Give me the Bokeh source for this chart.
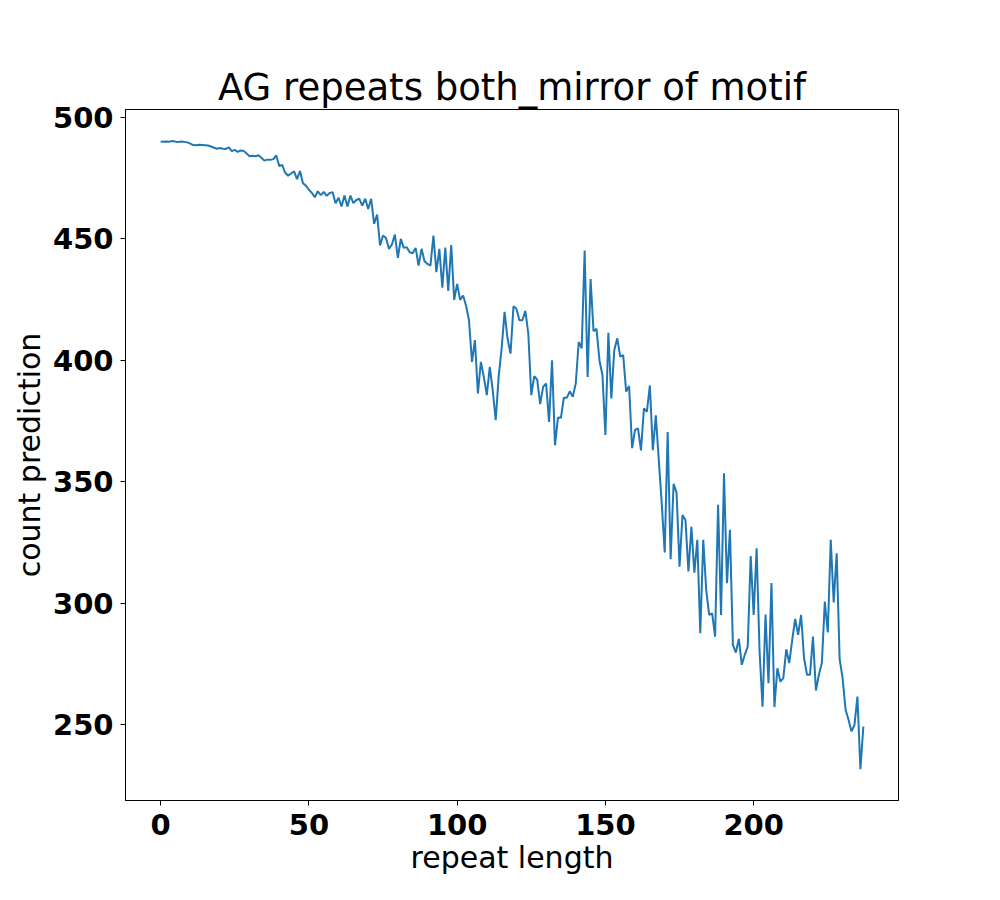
from bokeh.plotting import figure
from bokeh.models import Range1d, FixedTicker, ColumnDataSource
from bokeh.embed import file_html
from bokeh.resources import INLINE

title_text = "AG repeats both_mirror of motif"
x_label = "repeat length"
y_label = "count prediction"
x_ticks = [0, 50, 100, 150, 200]
y_ticks = [250, 300, 350, 400, 450, 500]

count_prediction = [
    490.0, 489.9, 490.0, 489.9, 490.2, 489.9, 489.8, 490.0, 489.8, 489.6,
    489.1, 488.5, 488.4, 488.6, 488.5, 488.4, 488.3, 487.9, 487.4, 487.0,
    487.3, 487.0, 486.9, 487.5, 486.0, 486.5, 485.7, 486.3, 486.1, 485.0,
    483.9, 484.1, 483.9, 484.3, 483.3, 482.1, 482.5, 482.4, 482.7, 484.2,
    479.9, 480.3, 477.1, 475.9, 476.8, 477.7, 474.5, 477.8, 472.8, 471.8,
    470.1, 468.8, 467.0, 469.5, 467.9, 469.2, 467.6, 468.8, 469.1, 464.6,
    466.8, 463.2, 467.7, 463.2, 467.7, 464.6, 465.9, 466.4, 463.6, 466.4,
    462.2, 466.4, 456.1, 459.9, 447.2, 451.3, 450.3, 445.8, 447.6, 451.7,
    442.1, 449.9, 446.2, 446.5, 444.4, 444.0, 446.2, 438.9, 445.8, 440.7,
    439.6, 438.9, 451.3, 436.2, 445.8, 429.8, 446.3, 428.5, 447.4, 424.8,
    431.4, 424.8, 426.6, 422.5, 416.3, 399.3, 408.2, 386.3, 399.3, 393.1,
    385.6, 397.2, 387.6, 375.3, 393.1, 404.8, 419.9, 408.9, 402.7, 422.2,
    421.2, 416.4, 416.4, 420.3, 411.0, 385.6, 393.4, 392.0, 381.9, 389.0,
    390.4, 374.6, 400.0, 365.0, 376.4, 376.3, 384.6, 384.6, 387.2, 384.9,
    390.4, 407.5, 404.9, 445.1, 393.1, 433.4, 411.9, 412.9, 399.9, 393.9,
    369.2, 411.3, 384.3, 404.2, 409.0, 401.5, 402.1, 387.1, 389.4, 363.8,
    371.3, 372.0, 362.9, 380.2, 378.8, 389.6, 363.0, 377.3, 359.0, 341.1,
    320.9, 370.4, 318.1, 349.1, 345.5, 315.1, 336.3, 334.3, 313.1, 331.5,
    312.6, 326.1, 287.7, 326.1, 305.5, 295.2, 295.9, 286.3, 340.5, 295.2,
    353.5, 308.3, 330.2, 282.9, 279.7, 285.4, 274.7, 278.8, 282.2, 319.4,
    295.2, 322.6, 280.0, 257.5, 295.4, 267.1, 308.3, 257.3, 273.3, 267.8,
    269.2, 281.1, 275.4, 284.9, 293.6, 287.0, 295.2, 277.4, 270.6, 270.6,
    286.3, 264.1, 270.6, 275.4, 300.7, 288.0, 326.1, 300.3, 320.6, 277.0,
    269.2, 256.2, 252.1, 247.3, 250.0, 261.6, 231.8, 249.3,
]
repeat_length = list(range(len(count_prediction)))

# matplotlib-like 5% data margins
xmin, xmax = min(repeat_length), max(repeat_length)
ymin, ymax = min(count_prediction), max(count_prediction)
xpad = 0.05 * (xmax - xmin)
ypad = 0.05 * (ymax - ymin)

p = figure(
    width=984, height=884,
    output_backend="svg", toolbar_location=None,
    x_range=Range1d(xmin - xpad, xmax + xpad),
    y_range=Range1d(ymin - ypad, ymax + ypad),
    min_border_left=125, min_border_right=86,
    min_border_top=109, min_border_bottom=84,
    title=title_text,
)
p.background_fill_color = "white"
p.border_fill_color = "white"
p.outline_line_color = "black"
p.outline_line_width = 1
p.outline_line_alpha = 1.0
p.grid.visible = False

p.title.text_font = "DejaVu Sans"
p.title.text_font_size = "37px"
p.title.text_font_style = "normal"
p.title.text_color = "black"
p.title.align = "center"
p.title.standoff = 2

src = ColumnDataSource(dict(x=repeat_length, y=count_prediction))
p.line("x", "y", source=src, line_color="#1f77b4", line_width=2)

for ax, ticks, lab, so, lso in ((p.xaxis[0], x_ticks, x_label, 8, 2),
                                (p.yaxis[0], y_ticks, y_label, 7, 3)):
    ax.ticker = FixedTicker(ticks=ticks)
    ax.axis_label = lab
    ax.axis_label_text_font = "DejaVu Sans"
    ax.axis_label_text_font_size = "30px"
    ax.axis_label_text_font_style = "normal"
    ax.axis_label_text_color = "black"
    ax.axis_label_standoff = lso
    ax.major_label_text_font = "DejaVu Sans"
    ax.major_label_text_font_size = "29px"
    ax.major_label_text_font_style = "bold"
    ax.major_label_text_color = "black"
    ax.major_label_standoff = so
    ax.major_tick_out = 5
    ax.major_tick_in = 0
    ax.minor_tick_out = 0
    ax.minor_tick_in = 0
    ax.axis_line_color = "black"
    ax.major_tick_line_color = "black"

open("out.html", "w").write(file_html(p, INLINE))
